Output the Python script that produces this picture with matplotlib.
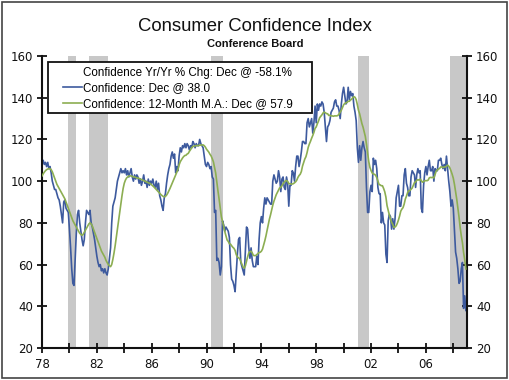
import numpy as np
import matplotlib
matplotlib.use('Agg')
import matplotlib.pyplot as plt
from matplotlib.lines import Line2D
from matplotlib.patches import Rectangle

plt.rcParams['font.family'] = ['DejaVu Sans']

# Conference Board consumer confidence, monthly Jan 1978 - Dec 2008
confidence = [
    108, 110, 108, 109, 107, 109, 106, 107, 104, 100, 98, 96,       # 1978
    96, 94, 92, 91, 88, 84, 80, 90, 91, 87, 86, 85,                 # 1979
    77, 68, 58, 51, 50, 62, 75, 84, 86, 80, 76, 72,                 # 1980
    69, 72, 80, 86, 85, 84, 86, 80, 78, 75, 72, 68,                 # 1981
    64, 61, 59, 60, 57, 58, 56, 58, 56, 55, 58, 63,                 # 1982
    68, 80, 88, 90, 92, 96, 100, 102, 104, 106, 104, 105,           # 1983
    104, 106, 103, 105, 102, 104, 106, 102, 100, 103, 101, 103,     # 1984
    102, 99, 101, 98, 100, 103, 99, 100, 97, 101, 98, 100,          # 1985
    99, 101, 98, 97, 100, 96, 99, 93, 91, 88, 86, 92,               # 1986
    94, 99, 103, 106, 108, 112, 114, 111, 113, 104, 107, 105,       # 1987
    112, 116, 114, 117, 116, 118, 116, 118, 117, 115, 117, 116,     # 1988
    119, 118, 116, 118, 117, 117, 120, 118, 117, 116, 112, 108,     # 1989
    107, 109, 108, 106, 107, 102, 101, 85, 86, 62, 63, 61,          # 1990
    55, 59, 81, 79, 76, 78, 77, 76, 73, 60, 53, 52,                 # 1991
    50, 47, 56, 65, 72, 73, 61, 59, 57, 55, 66, 78,                 # 1992
    77, 68, 63, 68, 62, 59, 59, 59, 64, 60, 72, 80,                 # 1993
    83, 80, 87, 92, 89, 92, 91, 90, 89, 89, 100, 103,               # 1994
    101, 99, 100, 105, 102, 95, 101, 102, 97, 96, 102, 99,          # 1995
    88, 98, 98, 105, 104, 100, 107, 112, 112, 107, 110, 114,        # 1996
    119, 119, 118, 118, 128, 130, 126, 128, 130, 123, 128, 136,     # 1997
    128, 137, 134, 137, 136, 138, 137, 133, 126, 119, 126, 127,     # 1998
    129, 133, 134, 135, 138, 139, 136, 136, 134, 130, 137, 142,     # 1999
    145, 141, 137, 138, 145, 139, 143, 141, 142, 136, 133, 129,     # 2000
    116, 109, 117, 110, 116, 119, 116, 114, 97, 85, 85, 95,         # 2001
    98, 95, 111, 108, 110, 106, 97, 94, 94, 80, 85, 80,             # 2002
    79, 65, 61, 81, 84, 83, 77, 82, 77, 82, 92, 95,                 # 2003
    98, 88, 88, 93, 93, 103, 106, 99, 97, 93, 93, 102,              # 2004
    105, 104, 103, 97, 103, 106, 104, 105, 87, 85, 98, 104,         # 2005
    107, 103, 107, 110, 105, 105, 107, 100, 106, 105, 105, 110,     # 2006
    110, 111, 108, 106, 108, 105, 112, 106, 100, 95, 88, 91,        # 2007
    87, 76, 66, 63, 58, 51, 52, 58, 61, 39, 45, 38,                 # 2008
]

# 12-month moving average as drawn (green line)
confidence_ma = [
    102.5, 103.5, 104.3, 105, 105.5, 105.8, 106, 106, 105.5, 104.5, 103, 101.5,
    100, 98.5, 97.5, 96.5, 95.5, 94.5, 93.5, 92.5, 91.5, 90, 88.5, 87,
    85.5, 84, 82.5, 81, 80, 79, 78, 77, 76, 75, 74.5, 74,
    74.5, 75.5, 76.5, 77.5, 78.5, 79.5, 80, 79.5, 78.5, 77, 75.5, 74,
    72.5, 71, 69.5, 68, 66.5, 65.5, 64.5, 63.5, 62, 61, 60, 59.5,
    59, 60, 62.5, 65.5, 69, 73, 77, 81, 85, 89, 93, 96.5,
    99, 100.5, 101.5, 102, 102.5, 102.5, 102.5, 102.3, 102, 102, 101.8, 101.5,
    101.5, 101.3, 101, 100.8, 100.5, 100.3, 100, 99.7, 99.5, 99.2, 99, 98.7,
    98.2, 97.7, 97.2, 96.6, 96, 95.4, 94.8, 94.2, 93.6, 93.1, 92.7, 92.5,
    92.7, 93.3, 94.2, 95.3, 96.5, 97.8, 99.2, 100.5, 101.8, 103, 104.3, 105.6,
    107.8, 109.3, 110.2, 111.1, 111.8, 112.3, 112.4, 113, 113.3, 114.3, 115.1, 116,
    116.6, 116.8, 116.9, 117, 117.1, 117, 117.3, 117.3, 117.3, 117.4, 117, 116.3,
    115.3, 114.6, 113.9, 112.9, 112.1, 110.8, 109.3, 106.5, 103.9, 99.4, 95.3, 91.4,
    87.1, 82.9, 80.7, 78.4, 75.8, 73.8, 71.8, 71.1, 70, 69.8, 69, 68.3,
    67.8, 66.8, 64.8, 63.6, 63.3, 62.8, 61.5, 60.1, 58.8, 58.3, 59.4, 61.6,
    63.8, 65.6, 66.2, 66.4, 65.6, 64.4, 64.3, 64.3, 64.8, 65.3, 65.8, 65.9,
    66.4, 67.4, 69.4, 71.4, 73.7, 76.4, 79.1, 81.7, 83.8, 86.2, 88.5, 90.4,
    91.9, 93.5, 94.6, 95.7, 96.8, 97, 97.8, 98.8, 99.5, 100.1, 100.3, 99.9,
    98.8, 98.8, 98.6, 98.6, 98.8, 99.2, 99.7, 100.5, 101.8, 102.7, 103.3, 104.6,
    107.2, 108.9, 110.6, 111.7, 113.7, 116.2, 117.8, 119.1, 120.6, 121.9, 123.4, 125.3,
    126, 127.5, 128.8, 130.4, 131.1, 131.8, 132.7, 133.1, 132.8, 132.4, 132.3, 131.5,
    131.6, 131.3, 131.3, 131.1, 131.3, 131.3, 131.3, 131.5, 132.2, 133.1, 134, 135.3,
    136.6, 137.3, 137.5, 137.8, 138.3, 138.3, 138.9, 139.3, 140, 140.5, 140.2, 139.1,
    136.7, 134, 132.3, 130, 127.6, 125.9, 123.7, 121.4, 117.7, 113.4, 109.4, 106.6,
    105.1, 103.9, 103.4, 103.3, 102.8, 101.7, 100.1, 98.4, 98.2, 97.8, 97.8, 96.5,
    94.9, 92.4, 88.3, 86, 83.8, 81.9, 80.3, 79.3, 77.8, 78, 78.6, 79.8,
    81.4, 83.3, 85.6, 86.6, 87.3, 89, 91.4, 92.8, 94.5, 95.4, 95.5, 96.1,
    96.7, 98, 99.3, 99.6, 100.4, 100.7, 100.5, 101, 100.2, 99.5, 99.9, 100.1,
    100.3, 100.2, 100.5, 101.6, 101.8, 101.7, 101.9, 101.5, 103.1, 104.8, 105.3, 105.8,
    106.1, 106.8, 106.8, 106.5, 106.8, 106.8, 107.2, 107.7, 107.2, 106.3, 104.9, 103.3,
    101.4, 98.5, 95, 91.4, 87.3, 82.8, 77.8, 73.8, 70.5, 65.8, 62.3, 57.9,
]

# recession shading (start, end) in fractional years
recession_start = [1979.92, 1981.42, 1990.33, 2001.08, 2007.75]
recession_end = [1980.5, 1982.83, 1991.17, 2001.83, 2009.0]

tick_years = [1978, 1982, 1986, 1990, 1994, 1998, 2002, 2006]
tick_labels = ['78', '82', '86', '90', '94', '98', '02', '06']

years = 1978 + np.arange(len(confidence)) / 12.0

arial = ['Liberation Sans', 'DejaVu Sans']

fig = plt.figure(figsize=(5.1, 3.8), dpi=100)
ax = fig.add_axes([0.0824, 0.0842, 0.8333, 0.7684])

for s, e in zip(recession_start, recession_end):
    ax.axvspan(s, e, ymin=0.005, ymax=1, color='#c8c8c8', lw=0, zorder=0)

ax.plot(years, confidence, color='#3d5a9e', lw=1.2, zorder=2)
ax.plot(years, confidence_ma, color='#8cae52', lw=1.2, zorder=3)

ax.set_xlim(1978, 2009)
ax.set_ylim(20, 160)

ax.set_xticks(np.arange(1978, 2009, 2), minor=True)
ax.set_xticks(tick_years)
ax.set_xticklabels(tick_labels)
ax.set_yticks(np.arange(20, 161, 20))

for side in ['left', 'right', 'bottom']:
    ax.spines[side].set_linewidth(1.5)
    ax.spines[side].set_color('#111111')
ax.spines['top'].set_visible(False)

ax.tick_params(axis='both', which='both', direction='inout', length=7, width=1.3,
               colors='#111111', labelsize=8.5)
ax.tick_params(axis='y', right=True, labelright=True, pad=3)
ax.tick_params(axis='x', pad=4)

# legend box drawn separately so the handles can sit further in
ax.add_patch(Rectangle((0.014, 0.805), 0.621, 0.174, transform=ax.transAxes,
                       facecolor='white', edgecolor='#111111', lw=1.3, zorder=4))

handles = [Line2D([], [], color='none'),
           Line2D([], [], color='#3d5a9e', lw=1.2),
           Line2D([], [], color='#8cae52', lw=1.2)]
labels = ['Confidence Yr/Yr % Chg: Dec @ -58.1%',
          'Confidence: Dec @ 38.0',
          'Confidence: 12-Month M.A.: Dec @ 57.9']
leg = ax.legend(handles, labels, loc='upper left', bbox_to_anchor=(0.049, 0.963),
                borderaxespad=0, borderpad=0, frameon=False,
                prop={'family': arial, 'size': 8.4},
                handlelength=1.6, handletextpad=0.15, labelspacing=0.3)
leg.set_zorder(5)

fig.text(0.5, 0.93, 'Consumer Confidence Index', ha='center', va='center',
         fontsize=13.3, family=arial, color='#111111')
fig.text(0.5, 0.884, 'Conference Board', ha='center', va='center',
         fontsize=8, fontweight='bold', family=arial, color='#111111')

fig.patches.append(Rectangle((0.003, 0.004), 0.992, 0.99, transform=fig.transFigure,
                             fill=False, edgecolor='#444444', lw=1.2))

fig.savefig('out.png', dpi=100)
plt.close(fig)
